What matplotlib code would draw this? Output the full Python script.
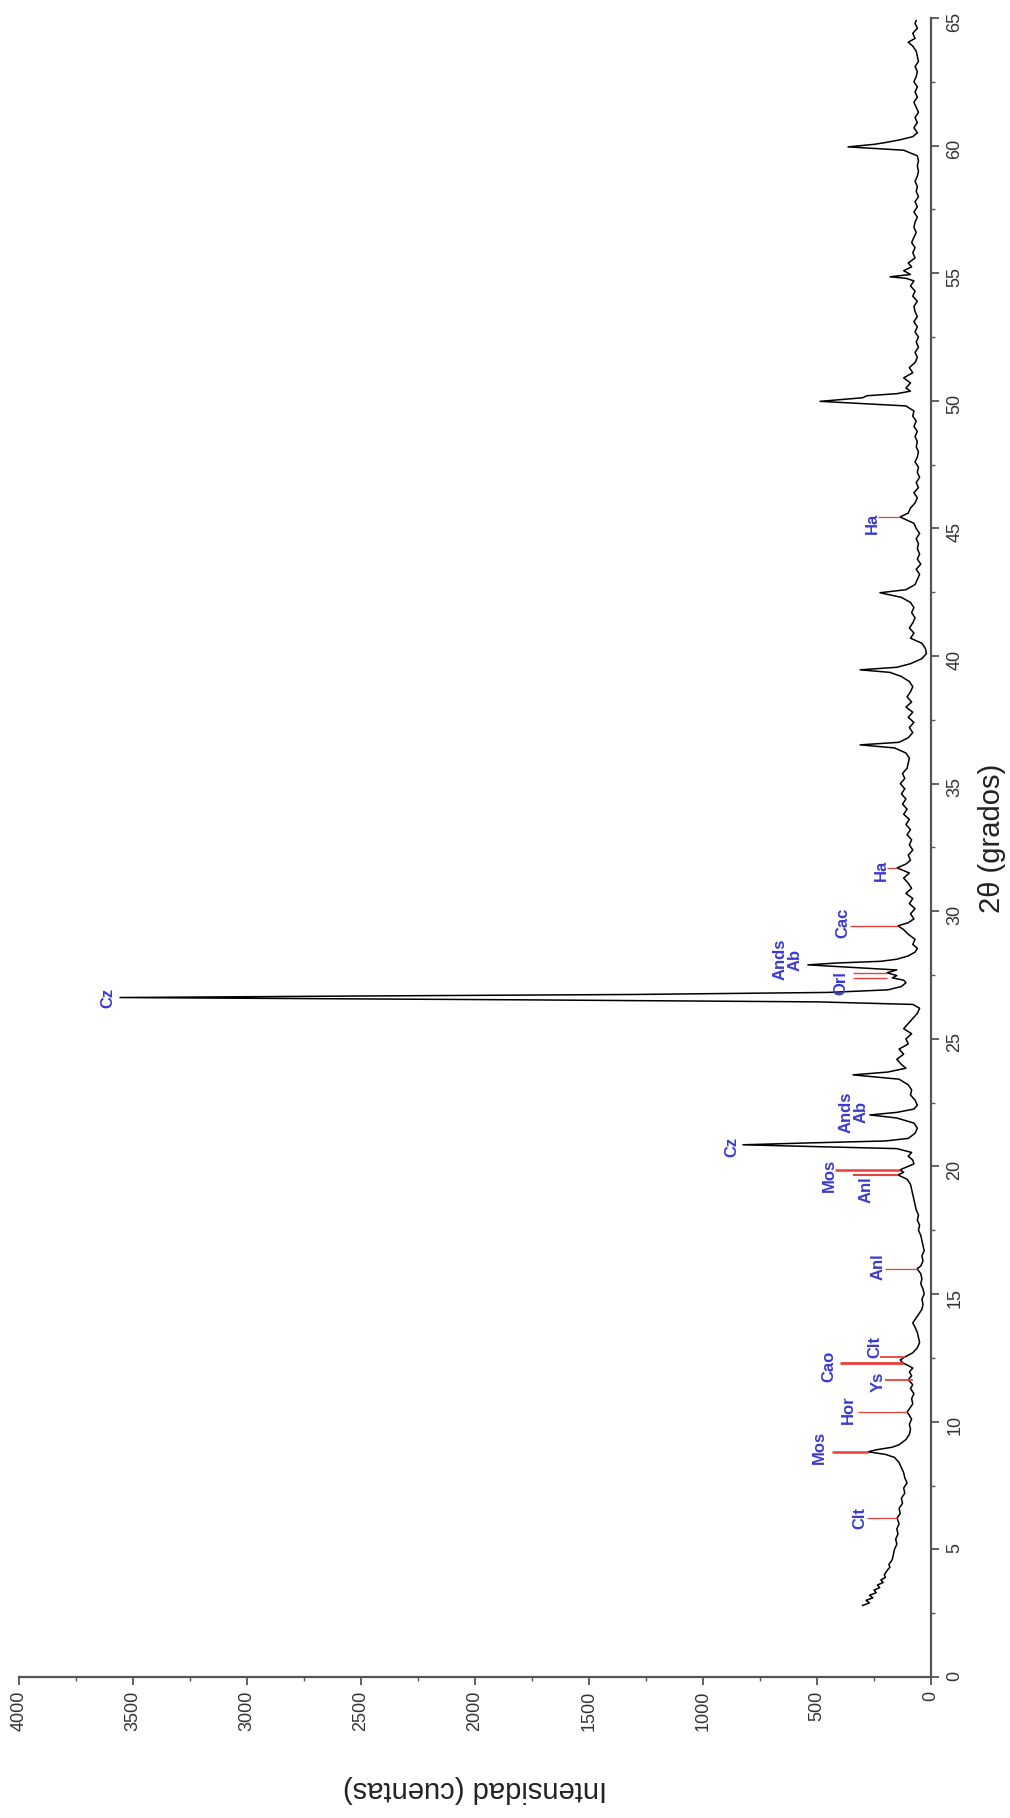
import matplotlib
matplotlib.use("Agg")
import matplotlib.pyplot as plt
from matplotlib.ticker import MultipleLocator

plt.rcParams['font.family'] = ['Liberation Sans', 'DejaVu Sans']

# Difractograma: 2-theta (grados) y cuentas
two_theta = [
    2.8, 2.9, 3.0, 3.1, 3.2, 3.3, 3.4, 3.5, 3.6, 3.7, 3.8, 3.9, 4.0, 4.2, 4.3, 4.4,
    4.6, 4.8, 5.0, 5.2, 5.4, 5.6, 5.8, 6.0, 6.23, 6.4, 6.6, 6.8, 7.0, 7.2, 7.4, 7.6,
    7.8, 8.0, 8.2, 8.4, 8.6, 8.72, 8.82, 8.9, 9.0, 9.1, 9.3, 9.5, 9.7, 9.9, 10.1, 10.25,
    10.38, 10.5, 10.7, 10.9, 11.1, 11.3, 11.45, 11.64, 11.8, 11.95, 12.1, 12.2, 12.3, 12.42,
    12.54, 12.7, 12.9, 13.1, 13.3, 13.5, 13.7, 13.87, 14.0, 14.2, 14.4, 14.6, 14.8, 15.0,
    15.2, 15.4, 15.6, 15.8, 15.99, 16.1, 16.3, 16.5, 16.7, 16.9, 17.1, 17.3, 17.5, 17.7,
    17.9, 18.1, 18.3, 18.5, 18.7, 18.9, 19.1, 19.3, 19.5, 19.67, 19.77, 19.87, 19.97, 20.1,
    20.25, 20.4, 20.55, 20.7, 20.78, 20.85, 20.92, 21.0, 21.1, 21.3, 21.5, 21.7, 21.9, 22.02,
    22.12, 22.25, 22.4, 22.6, 22.8, 23.0, 23.2, 23.42, 23.59, 23.7, 23.85, 24.0, 24.2, 24.4,
    24.6, 24.8, 25.0, 25.2, 25.4, 25.6, 25.8, 26.0, 26.2, 26.35, 26.45, 26.53, 26.62, 26.68,
    26.74, 26.82, 26.92, 27.05, 27.2, 27.3, 27.39, 27.48, 27.59, 27.7, 27.82, 27.9, 27.97,
    28.04, 28.12, 28.25, 28.4, 28.55, 28.7, 28.9, 29.1, 29.28, 29.43, 29.55, 29.7, 29.9,
    30.1, 30.3, 30.5, 30.7, 30.9, 31.1, 31.3, 31.5, 31.7, 31.85, 32.0, 32.2, 32.4, 32.6,
    32.8, 33.0, 33.2, 33.4, 33.6, 33.8, 34.0, 34.2, 34.4, 34.6, 34.8, 35.0, 35.2, 35.4,
    35.6, 35.8, 36.0, 36.2, 36.4, 36.52, 36.62, 36.8, 37.0, 37.2, 37.4, 37.6, 37.8, 38.0,
    38.2, 38.4, 38.6, 38.8, 39.0, 39.2, 39.36, 39.46, 39.56, 39.7, 39.9, 40.1, 40.3, 40.5,
    40.7, 40.9, 41.1, 41.3, 41.5, 41.7, 41.9, 42.1, 42.3, 42.48, 42.6, 42.8, 43.0, 43.2,
    43.4, 43.6, 43.8, 44.0, 44.2, 44.4, 44.6, 44.8, 45.0, 45.2, 45.45, 45.6, 45.8, 46.0,
    46.2, 46.4, 46.6, 46.8, 47.0, 47.2, 47.4, 47.6, 47.8, 48.0, 48.2, 48.4, 48.6, 48.8,
    49.0, 49.2, 49.4, 49.6, 49.8, 49.98, 50.12, 50.2, 50.28, 50.38, 50.5, 50.7, 50.9, 51.1,
    51.3, 51.5, 51.7, 51.9, 52.1, 52.3, 52.5, 52.7, 52.9, 53.1, 53.3, 53.5, 53.7, 53.9,
    54.1, 54.3, 54.5, 54.7, 54.8, 54.86, 54.95, 55.1, 55.25, 55.4, 55.6, 55.8, 56.0, 56.2,
    56.4, 56.6, 56.8, 57.0, 57.2, 57.4, 57.6, 57.8, 58.0, 58.2, 58.4, 58.6, 58.8, 59.0,
    59.2, 59.4, 59.6, 59.82, 59.95, 60.05, 60.12, 60.22, 60.35, 60.5, 60.7, 60.9, 61.1, 61.3,
    61.5, 61.7, 61.9, 62.1, 62.3, 62.5, 62.7, 62.9, 63.1, 63.3, 63.5, 63.7, 63.9, 64.05,
    64.2, 64.4, 64.6, 64.8, 64.9,
]
counts = [
    300, 270, 285, 255, 270, 240, 250, 225, 235, 210, 220, 200, 205, 190, 180, 185,
    170, 165, 160, 150, 155, 145, 150, 140, 149, 135, 140, 125, 130, 115, 120, 105,
    115, 120, 130, 140, 160, 200, 276, 240, 170, 140, 110, 95, 90, 95, 85, 95,
    105, 95, 80, 85, 75, 90, 80, 100, 85, 95, 80, 100, 123, 135,
    114, 80, 60, 50, 55, 60, 70, 80, 70, 55, 40, 35, 40, 30,
    35, 45, 40, 45, 61, 45, 35, 40, 30, 35, 40, 45, 55, 50,
    60, 55, 65, 70, 75, 80, 85, 90, 105, 145, 120, 136, 110, 75,
    80, 100, 85, 150, 500, 825, 550, 200, 100, 70, 60, 75, 150, 268,
    150, 75, 60, 70, 90, 85, 100, 140, 342, 190, 110, 130, 150, 120,
    140, 100, 110, 85, 120, 100, 80, 60, 50, 80, 500, 1800, 3557, 2500,
    1300, 450, 190, 130, 110, 120, 170, 150, 193, 150, 380, 540, 420,
    220, 150, 100, 70, 60, 80, 70, 100, 120, 145, 100, 75, 90,
    70, 95, 80, 110, 85, 100, 120, 95, 149, 110, 90, 100, 80, 95,
    85, 105, 90, 110, 95, 120, 105, 125, 110, 130, 115, 135, 115, 125,
    105, 100, 95, 110, 160, 311, 140, 100, 80, 95, 75, 100, 80, 110,
    85, 105, 90, 80, 95, 130, 180, 311, 150, 90, 40, 20, 25, 40,
    90, 75, 95, 80, 70, 85, 75, 90, 130, 224, 110, 70, 60, 50,
    65, 45, 60, 50, 60, 55, 65, 50, 65, 75, 136, 100, 90, 70,
    60, 75, 55, 65, 50, 60, 55, 70, 60, 55, 65, 60, 70, 60,
    75, 65, 80, 75, 110, 487, 300, 281, 150, 90, 110, 90, 120, 80,
    95, 70, 60, 70, 55, 65, 55, 70, 60, 75, 60, 70, 75, 60,
    80, 70, 90, 75, 110, 180, 90, 120, 85, 100, 70, 80, 70, 85,
    75, 65, 75, 70, 60, 75, 60, 70, 55, 65, 60, 70, 60, 55,
    60, 55, 60, 120, 364, 250, 200, 140, 80, 60, 75, 60, 70, 55,
    65, 75, 60, 70, 60, 75, 65, 60, 70, 55, 60, 65, 80, 100,
    70, 80, 60, 70, 65,
]

# Fases identificadas: texto, posicion del rotulo (2theta, cuentas)
phase_labels = ["Clt", "Mos", "Hor", "Ys", "Cao", "Clt", "Anl", "Anl", "Mos", "Cz",
                "Ands\nAb", "Cz", "Orl", "Ands\nAb", "Cac", "Ha", "Ha"]
label_theta = [6.23, 9.01, 10.46, 11.56, 12.15, 12.93, 16.07, 19.08, 19.63, 20.77,
               22.14, 26.6, 27.2, 28.1, 29.55, 31.62, 45.18]
label_counts = [311, 491, 364, 232, 447, 246, 232, 285, 447, 873,
                338, 3610, 395, 627, 386, 219, 259]

# Marcadores de fase: 2theta, cuentas inicial y final
marker_theta = [6.23, 8.82, 10.38, 11.64, 12.30, 12.54, 15.99, 19.67, 19.87,
                27.39, 27.59, 29.43, 31.70, 45.45]
marker_from = [149, 276, 105, 79, 123, 114, 61, 145, 136, 193, 193, 145, 149, 136]
marker_to = [281, 434, 320, 202, 399, 224, 202, 342, 421, 342, 342, 355, 193, 232]
marker_width = [0.9, 1.8, 0.9, 1.3, 2.0, 1.3, 0.9, 1.5, 1.8, 1.0, 1.0, 1.0, 0.9, 0.9]

fig = plt.figure(figsize=(10.10, 18.18), dpi=100)
ax = fig.add_axes([0.0188, 0.0776, 0.903, 0.9125])

ax.plot(counts, two_theta, color='black', lw=1.1)

for t, a, b, w in zip(marker_theta, marker_from, marker_to, marker_width):
    ax.plot([a, b], [t, t], color='#e8403c', lw=w, solid_capstyle='butt')

for txt, t, c in zip(phase_labels, label_theta, label_counts):
    ax.text(c, t, txt, rotation=90, ha='center', va='center', color='#3a3ad0',
            fontsize=12, fontweight='bold', multialignment='center', linespacing=1.0)

ax.set_xlim(4000, 0)
ax.set_ylim(0, 65)

for side in ('top', 'left'):
    ax.spines[side].set_visible(False)
for side in ('bottom', 'right'):
    ax.spines[side].set_color('#555555')
    ax.spines[side].set_linewidth(1.6)

ax.xaxis.set_major_locator(MultipleLocator(500))
ax.xaxis.set_minor_locator(MultipleLocator(250))
ax.yaxis.set_major_locator(MultipleLocator(5))
ax.yaxis.set_minor_locator(MultipleLocator(2.5))
ax.yaxis.tick_right()
ax.tick_params(axis='both', which='major', direction='out', length=6, width=1.3,
               color='#555555', labelsize=13, labelcolor='#333333')
ax.tick_params(axis='both', which='minor', direction='out', length=3, width=1.0,
               color='#555555')
ax.tick_params(axis='x', labelrotation=90, pad=4)
ax.tick_params(axis='y', labelrotation=90, pad=5)

ax.set_xlabel("Intensidad (cuentas)", fontsize=21, rotation=180, color='#222222')
ax.xaxis.set_label_coords(0.5, -0.0675)
ax.xaxis.label.set_va('center')
ax.yaxis.set_label_position('right')
ax.set_ylabel("2θ (grados)", fontsize=21, rotation=90, color='#222222')
ax.yaxis.set_label_coords(1.067, 0.5057)
ax.yaxis.label.set_va('center')

fig.savefig("out.png", dpi=100, facecolor='white')
